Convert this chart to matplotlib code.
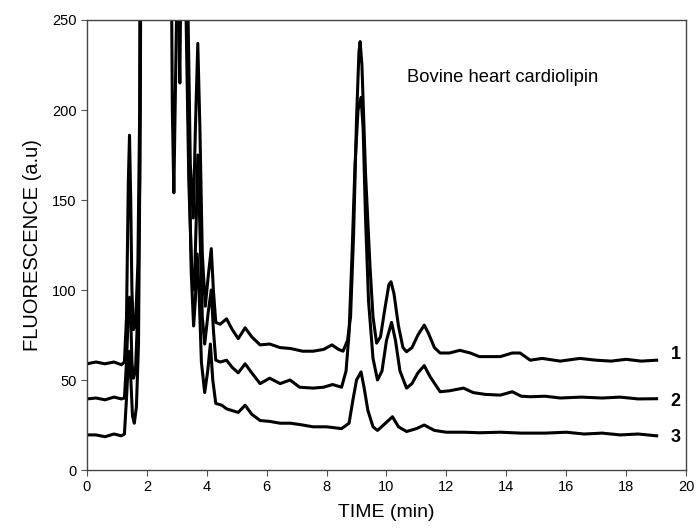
import matplotlib
matplotlib.use("Agg")
import matplotlib.pyplot as plt

# chromatogram traces (time in min, fluorescence in a.u.)
# values above 250 are the off-scale peaks, clipped by the axis
t1_x = [0.0, 0.3, 0.6, 0.9, 1.15, 1.25, 1.32, 1.38, 1.42, 1.46, 1.5, 1.55, 1.62, 1.7, 1.76, 1.8,
        2.2, 2.8, 2.95, 3.1, 3.2, 3.35, 3.45, 3.55, 3.62, 3.7, 3.77, 3.85, 3.95, 4.05, 4.15, 4.22,
        4.3, 4.45, 4.66, 4.85, 5.05, 5.28, 5.5, 5.78, 6.1, 6.45, 6.8, 7.2, 7.55, 7.9, 8.18, 8.4,
        8.55, 8.7, 8.8, 8.9, 9.0, 9.08, 9.12, 9.18, 9.3, 9.45, 9.55, 9.67, 9.8, 9.95, 10.08, 10.15,
        10.25, 10.4, 10.55, 10.67, 10.85, 11.05, 11.26, 11.4, 11.6, 11.79, 12.1, 12.45, 12.8, 13.1,
        13.5, 13.8, 14.2, 14.46, 14.8, 15.2, 15.8, 16.46, 17.0, 17.5, 18.0, 18.5, 19.02]
t1_y = [59, 60, 59, 60, 58.5, 60, 85, 160, 186, 150, 100, 78, 80, 115, 200, 400,
        600, 500, 350, 215, 380, 280, 170, 140, 190, 237, 190, 120, 91, 108, 123, 100,
        82, 81, 84, 78, 73, 79, 74, 69.5, 70, 68, 67.5, 66, 66, 67, 69.5, 67,
        66, 72, 85, 130, 195, 232, 238, 225, 165, 113, 85, 70.5, 74, 90, 103, 104.6,
        98, 80, 68, 65.7, 68, 75, 80.5, 76, 68, 65, 65, 66.5, 65, 63,
        63, 63, 65, 65, 61, 62, 60.5, 62, 61, 60.5, 61.5, 60.5, 61]

t2_x = [0.0, 0.3, 0.6, 0.9, 1.15, 1.25, 1.32, 1.38, 1.42, 1.46, 1.5, 1.55, 1.62, 1.7, 1.76, 1.8,
        2.2, 2.75, 2.85, 2.9, 2.97, 3.05, 3.3, 3.4, 3.5, 3.58, 3.65, 3.7, 3.76, 3.85, 3.93, 4.05,
        4.15, 4.22, 4.3, 4.45, 4.66, 4.85, 5.05, 5.28, 5.5, 5.78, 6.1, 6.45, 6.78, 7.1, 7.55, 7.9,
        8.2, 8.5, 8.65, 8.75, 8.85, 8.95, 9.05, 9.15, 9.22, 9.3, 9.4, 9.55, 9.7, 9.85, 10.0, 10.17,
        10.3, 10.45, 10.67, 10.85, 11.05, 11.26, 11.45, 11.79, 12.1, 12.57, 12.9, 13.3, 13.8, 14.2,
        14.5, 14.8, 15.3, 15.8, 16.5, 17.2, 17.8, 18.4, 19.02]
t2_y = [39.5, 40, 39, 40.5, 39.5, 40, 60, 88, 96, 85, 60, 51, 55, 90, 160, 400,
        600, 450, 200, 154, 230, 320, 260, 160, 110, 100, 140, 175, 140, 85, 70, 88,
        100, 78, 61, 60, 61, 57, 54, 59, 54, 48, 51, 48, 50, 46, 45.5, 46,
        47.5, 46, 55, 76, 120, 170, 200, 207, 190, 140, 94, 62, 50, 55, 72, 82,
        72, 55, 45.5, 48, 54, 58, 52, 43.5, 44, 45.5, 43, 42, 41.6, 43.5,
        41, 40.7, 41, 40, 40.5, 40, 40.5, 39.5, 39.6]

t3_x = [0.0, 0.3, 0.6, 0.9, 1.15, 1.25, 1.32, 1.38, 1.42, 1.47, 1.52, 1.58, 1.65, 1.72, 1.78, 1.82,
        2.2, 2.8, 3.0, 3.3, 3.4, 3.48, 3.56, 3.62, 3.68, 3.74, 3.82, 3.93, 4.03, 4.12, 4.2, 4.3,
        4.5, 4.66, 4.85, 5.05, 5.28, 5.5, 5.78, 6.1, 6.45, 6.8, 7.2, 7.55, 8.0, 8.5, 8.75, 8.88,
        9.0, 9.15, 9.25, 9.38, 9.55, 9.7, 9.9, 10.2, 10.4, 10.67, 11.0, 11.26, 11.6, 12.0,
        12.6, 13.1, 13.8, 14.5, 15.3, 16.0, 16.6, 17.2, 17.8, 18.4, 19.02]
t3_y = [19.5, 19.5, 18.5, 20, 19, 20, 40, 60, 66, 48, 30, 26, 35, 70, 200, 400,
        600, 450, 350, 300, 180, 110, 80, 95, 120, 100, 60, 43, 55, 70, 50, 37,
        36, 34, 33, 32, 36, 31, 27.5, 27, 26, 26, 25, 24, 24, 23, 26, 39,
        50, 54.5, 46, 33, 24, 22, 25, 29.6, 24, 21.4, 23, 25, 22, 21,
        21, 20.7, 21, 20.5, 20.5, 21, 20, 20.5, 19.5, 20, 19]

trace_labels = ["1", "2", "3"]
label_y = [64, 38, 18]
title_text = "Bovine heart cardiolipin"

plt.rcParams["font.family"] = ["Liberation Sans", "DejaVu Sans"]

fig = plt.figure(figsize=(6.97, 5.29), dpi=100)
ax = fig.add_axes([0.1248, 0.1115, 0.8594, 0.8507])

for xs, ys in [(t1_x, t1_y), (t2_x, t2_y), (t3_x, t3_y)]:
    ax.plot(xs, ys, color="black", lw=2.2, solid_joinstyle="round")

for lab, ly in zip(trace_labels, label_y):
    ax.text(19.66, ly, lab, fontsize=13, fontweight="bold", ha="center", va="center")

ax.text(10.7, 218, title_text, fontsize=13.2, ha="left", va="center")

ax.set_xlim(0, 20)
ax.set_ylim(0, 250)
ax.set_xticks(range(0, 21, 2))
ax.set_yticks(range(0, 251, 50))
ax.tick_params(direction="out", length=4, width=0.8, labelsize=10.5, color="#555555")
for sp in ax.spines.values():
    sp.set_color("#444444")
    sp.set_linewidth(1.0)

ax.set_xlabel("TIME (min)", fontsize=14, labelpad=7)
ax.set_ylabel("FLUORESCENCE (a.u)", fontsize=14.5, labelpad=7)

fig.savefig("out.png", dpi=100)
